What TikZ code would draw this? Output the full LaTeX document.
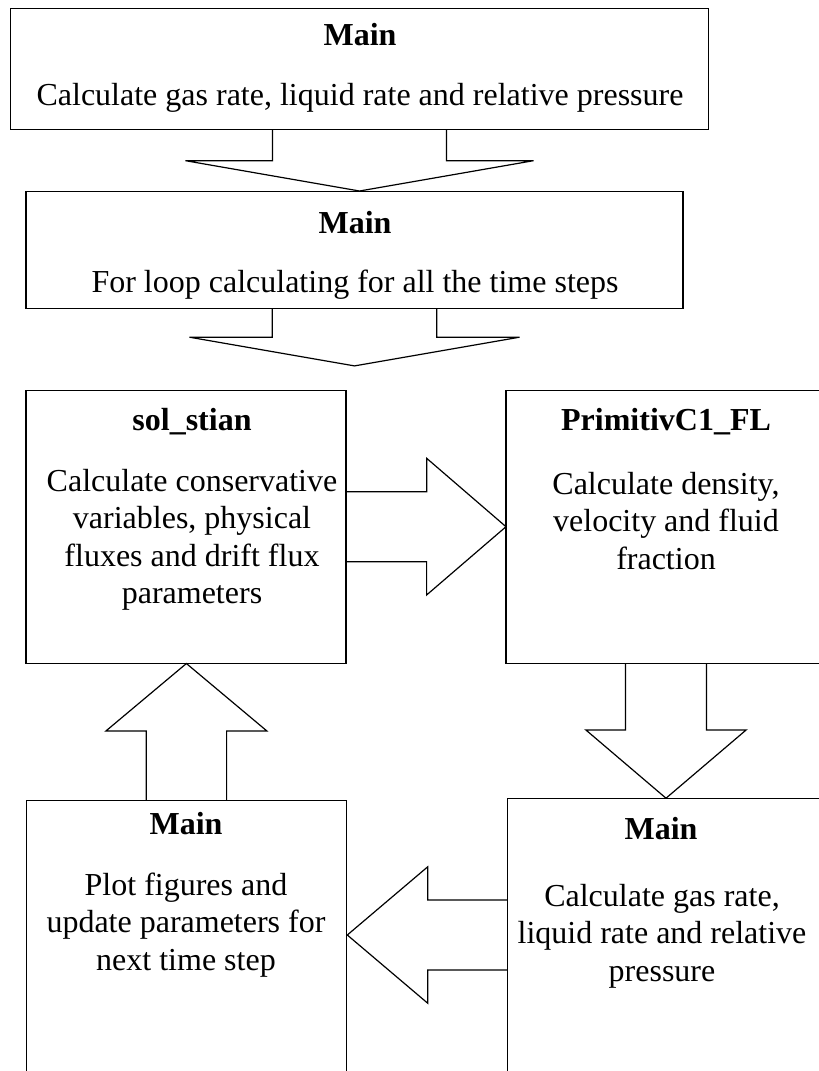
\documentclass[tikz,border=0pt]{standalone}
\usepackage{fontspec}
\setmainfont{Liberation Serif}
\usetikzlibrary{calc,positioning}

\begin{document}
\begin{tikzpicture}[x=1pt,y=-1pt,
  blk/.style={draw,line width=1.2pt,inner sep=0pt,outer sep=0pt},
  ttl/.style={font=\fontsize{32}{37.5}\selectfont\bfseries,inner sep=0pt},
  txt/.style={font=\fontsize{32}{37.5}\selectfont,align=center,inner sep=0pt},
  barrow/.style={draw,line width=1.2pt,line join=miter}]
\path[use as bounding box,clip] (0,0) rectangle (819,1071);
% boxes
\node[blk,minimum width=698pt,minimum height=121pt](m1) at (359.5,68.8){};
\node[blk,minimum width=657pt,minimum height=117pt](m2) at (354.5,249.7){};
\node[blk,minimum width=320pt,minimum height=273pt](sol) at (185.9,526.7){};
\node[blk,minimum width=320pt,minimum height=273pt](prim) at (666,526.7){};
\node[blk,minimum width=320pt,minimum height=273pt](plot) at (186.4,936.7){};
\node[blk,minimum width=320pt,minimum height=273pt](calc) at (667.6,935){};
% texts
\node[ttl](m1t) at (360,35){Main};
\node[txt](m1b) at (360,98){Calculate gas rate, liquid rate and relative pressure};
\node[ttl](m2t) at (355,223){Main};
\node[txt](m2b) at (355,285){For loop calculating for all the time steps};
\node[ttl](solt) at (192,421.7){sol\_stian};
\node[txt](solb) at (192,540){Calculate conservative\\ variables, physical\\ fluxes and drift flux\\ parameters};
\node[ttl](primt) at (666,421.7){PrimitivC1\_FL};
\node[txt](primb) at (666,521){Calculate density,\\ velocity and fluid\\ fraction};
\node[ttl](plott) at (186,823.3){Main};
\node[txt](plotb) at (186,925){Plot figures and\\ update parameters for\\ next time step};
\node[ttl](calct) at (661,828.3){Main};
\node[txt](calcb) at (662,936){Calculate gas rate,\\ liquid rate and relative\\ pressure};
% block arrows
\draw[barrow] ($(m1.south)+(-87,0)$) -- ++(0,31.4) -- ++(-87,0) -- ($(m1.south)+(0,61.7)$) -- ++(174,-30.3) -- ++(-87,0) -- ++(0,-31.4);
\draw[barrow] ($(m2.south)+(-82.3,0)$) -- ++(0,29) -- ++(-82.7,0) -- ($(m2.south)+(0,57.7)$) -- ++(165,-28.7) -- ++(-82.7,0) -- ++(0,-29);
\draw[barrow] ($(sol.east)+(0,-35)$) -- ++(80.9,0) -- ++(0,-33.3) -- (prim.west) -- ++(-79.4,68.3) -- ++(0,-33.3) -- ++(-80.9,0);
\draw[barrow] ($(plot.north)+(-40.2,0)$) -- ++(0,-69.3) -- ++(-40.2,0) -- ($(plot.north)+(0,-136.7)$) -- ++(80.4,67.4) -- ++(-40.2,0) -- ++(0,69.3);
\draw[barrow] ($(prim.south)+(-40.5,0)$) -- ++(0,66.7) -- ++(-39.7,0) -- ($(prim.south)+(0,135)$) -- ++(80.2,-68.3) -- ++(-39.7,0) -- ++(0,-66.7);
\draw[barrow] ($(calc.west)+(0,-35)$) -- ++(-79.9,0) -- ++(0,-33.2) -- ($(calc.west)+(-160.3,0)$) -- ++(80.4,68.2) -- ++(0,-33.2) -- ++(79.9,0);
\end{tikzpicture}
\end{document}
